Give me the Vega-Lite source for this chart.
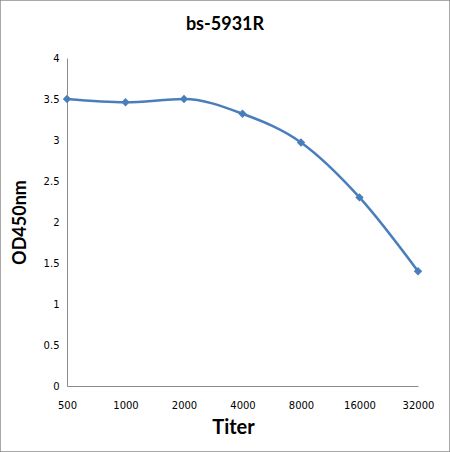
{
  "$schema": "https://vega.github.io/schema/vega-lite/v6.json",
  "width": 450,
  "height": 452,
  "autosize": "none",
  "padding": 0,
  "background": "white",
  "title": {
    "text": "bs-5931R",
    "font": "Lato",
    "fontSize": 18,
    "fontWeight": "bold",
    "color": "#000000",
    "anchor": "middle",
    "offset": -34
  },
  "data": {
    "values": [
      {"titer": "500", "od": 3.5},
      {"titer": "1000", "od": 3.46},
      {"titer": "2000", "od": 3.5},
      {"titer": "4000", "od": 3.32},
      {"titer": "8000", "od": 2.97},
      {"titer": "16000", "od": 2.3},
      {"titer": "32000", "od": 1.4}
    ]
  },
  "encoding": {
    "x": {
      "field": "titer",
      "type": "ordinal",
      "sort": null,
      "scale": {"type": "point", "range": [67, 418], "padding": 0},
      "axis": {
        "title": "Titer",
        "offset": -66,
        "labelAngle": 0,
        "labelPadding": 14,
        "ticks": false,
        "domainColor": "#8c8c8c",
        "labelFont": "DejaVu Sans",
        "labelFontSize": 10,
        "labelColor": "#000000",
        "titleFont": "Lato",
        "titleFontSize": 20,
        "titleFontWeight": "bold",
        "titleColor": "#000000",
        "titleX": 233,
        "titleY": 41,
        "titleBaseline": "middle"
      }
    },
    "y": {
      "field": "od",
      "type": "quantitative",
      "scale": {"domain": [0, 4], "range": [386, 58], "nice": false},
      "axis": {
        "title": "OD450nm",
        "offset": -67,
        "values": [0, 0.5, 1, 1.5, 2, 2.5, 3, 3.5, 4],
        "format": "~g",
        "grid": false,
        "ticks": false,
        "labelPadding": 8,
        "domainColor": "#8c8c8c",
        "labelFont": "DejaVu Sans",
        "labelFontSize": 10,
        "labelColor": "#000000",
        "titleFont": "Lato",
        "titleFontSize": 18,
        "titleFontWeight": "bold",
        "titleColor": "#000000",
        "titleX": -47,
        "titleY": 222,
        "titleBaseline": "middle"
      }
    }
  },
  "layer": [
    {
      "mark": {"type": "line", "interpolate": "monotone", "color": "#4a7ebb", "strokeWidth": 2.5}
    },
    {
      "mark": {"type": "point", "shape": "diamond", "filled": true, "color": "#4a7ebb", "size": 70, "opacity": 1}
    }
  ],
  "config": {
    "view": {"stroke": "#8c8c8c", "strokeWidth": 1.5}
  }
}
